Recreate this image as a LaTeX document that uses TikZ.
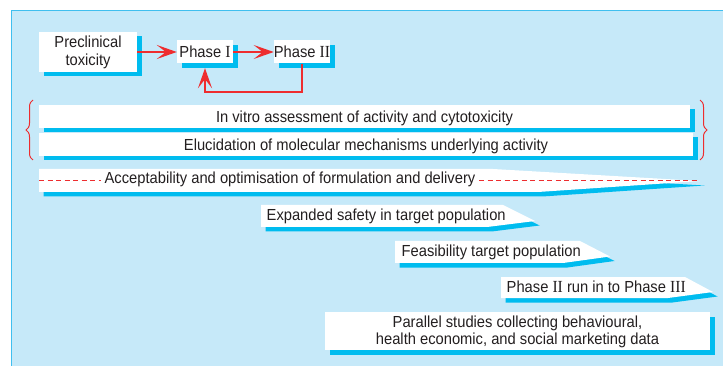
\documentclass[tikz,border=0pt]{standalone}
\usepackage{fontspec}
\setmainfont{Liberation Sans}[FakeStretch=0.92]
\newfontfamily\rmn{Liberation Serif}[FakeStretch=0.92,Scale=1.06]
\usetikzlibrary{arrows.meta,decorations.pathreplacing,calc}
\definecolor{bgc}{HTML}{C6E9F9}
\definecolor{bordc}{HTML}{40BFEF}
\definecolor{shc}{HTML}{00BCEF}
\definecolor{redc}{HTML}{EE2D2F}
\definecolor{txtc}{HTML}{231F20}
\newcommand\pennant[1]{\fill[shc,xshift=4.5pt,yshift=-4.5pt] #1 -- cycle; \fill[white] #1 -- cycle;}
% name, x, y, width, height, text
\newcommand\shbox[6]{%
  \fill[shc] (#2-#4/2+4.5,#3-#5/2+4.5) rectangle (#2+#4/2+4.5,#3+#5/2+4.5);
  \node[boxnode, minimum width=#4pt, minimum height=#5pt] (#1) at (#2,#3) {#6};}
\tikzset{
  boxnode/.style={fill=white, inner sep=0pt, text=txtc,
    text height=11.5pt, text depth=0pt, font=\fontsize{16}{17.5}\selectfont},
  lbl/.style={inner sep=0pt, text=txtc, font=\fontsize{16}{17.5}\selectfont},
  redarrow/.style={draw=redc, line width=1.6pt, -{Stealth[length=20pt,width=14pt,inset=9pt]}},
  bracec/.style={draw=redc, line width=1pt, decorate, decoration={brace, amplitude=7pt}}
}
\begin{document}
\begin{tikzpicture}[x=1pt,y=-1pt]
\useasboundingbox (0,0) rectangle (723,366);
% background panel
\fill[bgc] (11,10) rectangle (723,366);
\draw[bordc, line width=1.6pt] (11.5,366) -- (11.5,10.5) -- (723,10.5);

% top flow
\shbox{pre}{88}{52}{98}{40}{}
\node[lbl, anchor=base] (pre1) at (88,47.7) {Preclinical};
\node[lbl, anchor=base] (pre2) at (88,65.7) {toxicity};
\shbox{p1}{205}{52}{56}{23}{Phase {\rmn I}}
\shbox{p2}{302}{52}{56}{23}{Phase {\rmn II}}
\coordinate (fb) at (250,92);
\draw[redarrow] (pre.east) -- (p1.west);
\draw[redarrow] (p1.east) -- (p2.west);
\draw[redarrow] (p2.south) |- (fb) -| ([yshift=-4.5pt]p1.south);

% long boxes
\shbox{vitro}{364.5}{116.5}{651}{23}{In vitro assessment of activity and cytotoxicity}
\shbox{eluc}{366}{144.5}{654}{23}{Elucidation of molecular mechanisms underlying activity}
\coordinate (lb1) at (33,160);
\coordinate (lb2) at (33,100);
\coordinate (rb1) at (700,100);
\coordinate (rb2) at (700,160);
\draw[bracec] (lb1) -- (lb2);
\draw[bracec] (rb1) -- (rb2);

% acceptability pennant
\pennant{(39,169) -- (493,169) -- (700,181) -- (538,192) -- (39,192)}
\node[lbl, anchor=base, inner xsep=3.5pt] (acc) at (290,184) {Acceptability and optimisation of formulation and delivery};
\coordinate (d1) at (39,180.5);
\coordinate (d2) at (699,180.5);
\draw[redc, line width=0.9pt, dash pattern=on 5pt off 3.5pt] (d1) -- (d1 -| acc.west);
\draw[redc, line width=0.9pt, dash pattern=on 5pt off 3.5pt] (acc.east |- d2) -- (d2);

% expanded safety
\pennant{(261,205) -- (503,205) -- (535,221) -- (487,227) -- (261,227)}
\node[lbl, anchor=base west] (exp) at (266.5,220.5) {Expanded safety in target population};

% feasibility
\pennant{(395,241) -- (580,241) -- (610,256.5) -- (563,263) -- (395,263)}
\node[lbl, anchor=base west] (fea) at (401.5,256) {Feasibility target population};

% phase II run in
\pennant{(501,277) -- (685,277) -- (713,292) -- (668,298) -- (501,298)}
\node[lbl, anchor=base west] (run) at (506.5,292) {Phase {\rmn II} run in to Phase {\rmn III}};

% parallel studies
\shbox{par}{517.5}{331}{385}{38}{}
\node[lbl, anchor=base] (par1) at (517.5,327.7) {Parallel studies collecting behavioural,};
\node[lbl, anchor=base] (par2) at (517.5,344) {health economic, and social marketing data};
\end{tikzpicture}
\end{document}
